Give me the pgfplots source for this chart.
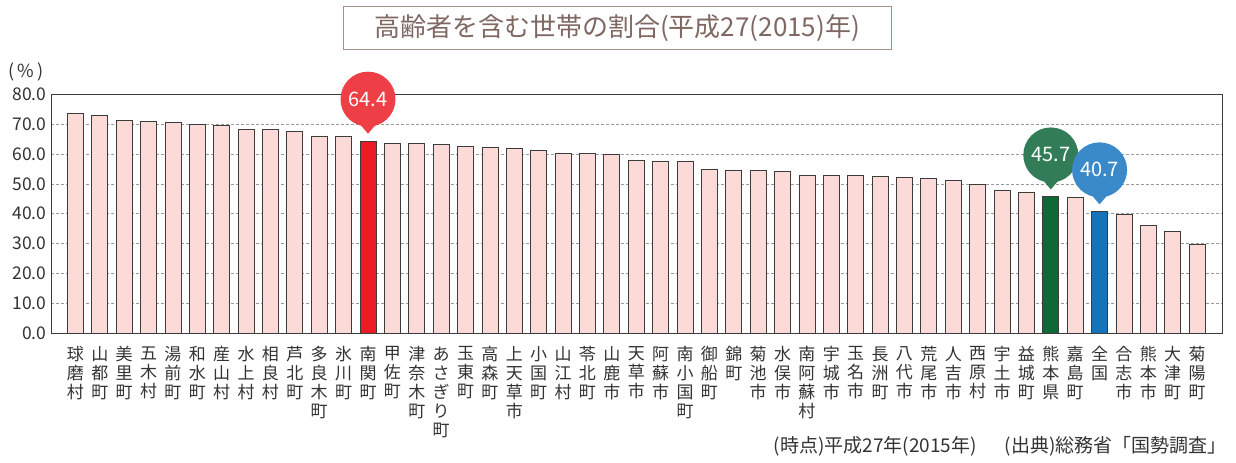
\documentclass[border=0pt]{standalone}
\usepackage{fontspec}
\setmainfont{Noto Sans CJK JP}
\usepackage{pgfplots}
\pgfplotsset{compat=1.18}
\usetikzlibrary{shapes.callouts}
\definecolor{barpink}{HTML}{FBDAD8}
\definecolor{baredge}{HTML}{3C3C3C}
\definecolor{barred}{HTML}{ED1C24}
\definecolor{bubred}{HTML}{EE3F47}
\definecolor{bargreen}{HTML}{0F6937}
\definecolor{bubgreen}{HTML}{327D57}
\definecolor{barblue}{HTML}{1573BB}
\definecolor{bubblue}{HTML}{3A89C9}
\definecolor{titlecol}{HTML}{7F6762}
\definecolor{titlebox}{HTML}{A48F89}
\definecolor{txt}{HTML}{333333}
\definecolor{gridcol}{HTML}{9A9A9A}
\begin{document}
\begin{tikzpicture}[x=1bp,y=1bp]
\useasboundingbox (0,0) rectangle (1236,463);
\begin{axis}[
  at={(51bp,130bp)}, anchor=south west,
  scale only axis, width=1171.7bp, height=238.5bp,
  xmin=-1, xmax=47.05, ymin=0, ymax=80,
  axis line style={baredge, line width=0.8bp},
  ytick={0,10,...,80},
  major tick length=0pt,
  ymajorgrids, grid style={gridcol, line width=0.8bp, dash pattern=on 3bp off 2bp},
  y tick label style={/pgf/number format/fixed, /pgf/number format/fixed zerofill, /pgf/number format/precision=1, /pgf/number format/assume math mode=true, font=\fontsize{17.5bp}{20bp}\selectfont, text=txt, xshift=-1bp},
  xtick={0,...,46},
  xticklabels={球\\磨\\村,山\\都\\町,美\\里\\町,五\\木\\村,湯\\前\\町,和\\水\\町,産\\山\\村,水\\上\\村,相\\良\\村,芦\\北\\町,多\\良\\木\\町,氷\\川\\町,南\\関\\町,甲\\佐\\町,津\\奈\\木\\町,あ\\さ\\ぎ\\り\\町,玉\\東\\町,高\\森\\町,上\\天\\草\\市,小\\国\\町,山\\江\\村,苓\\北\\町,山\\鹿\\市,天\\草\\市,阿\\蘇\\市,南\\小\\国\\町,御\\船\\町,錦\\町,菊\\池\\市,水\\俣\\市,南\\阿\\蘇\\村,宇\\城\\市,玉\\名\\市,長\\洲\\町,八\\代\\市,荒\\尾\\市,人\\吉\\市,西\\原\\村,宇\\土\\市,益\\城\\町,熊\\本\\県,嘉\\島\\町,全\\国,合\\志\\市,熊\\本\\市,大\\津\\町,菊\\陽\\町},
  x tick label style={font=\fontsize{17bp}{19bp}\selectfont, text=txt, align=center, anchor=north, yshift=-10bp},
  nodes near coords style={ellipse callout, text=white, minimum width=55bp, minimum height=55bp, inner sep=0pt, callout relative pointer={(0bp,-7bp)}, callout pointer arc=28, anchor=pointer, yshift=7bp, font=\fontsize{20bp}{20bp}\selectfont, /pgf/number format/fixed, /pgf/number format/fixed zerofill, /pgf/number format/precision=1, /pgf/number format/assume math mode=true},
]
\addplot[ybar, bar width=16bp, bar shift=0pt, fill=barpink, draw=baredge, line width=0.8bp] coordinates {
(0,73.7) (1,73.0) (2,71.3) (3,70.9) (4,70.6) (5,69.9) (6,69.7) (7,68.3) (8,68.3) (9,67.7)
(10,66.1) (11,65.9) (13,63.7) (14,63.6) (15,63.3) (16,62.5) (17,62.2) (18,62.0) (19,61.2)
(20,60.3) (21,60.2) (22,59.8) (23,57.8) (24,57.7) (25,57.5) (26,54.8) (27,54.7) (28,54.6)
(29,54.1) (30,53.0) (31,52.9) (32,52.8) (33,52.5) (34,52.1) (35,51.9) (36,51.1) (37,49.8)
(38,47.9) (39,47.2) (41,45.6) (43,39.7) (44,36.2) (45,34.1) (46,29.6)
};
\addplot[ybar, bar width=16bp, bar shift=0pt, fill=barred, draw=baredge, line width=0.8bp] coordinates {(12,64.4)};
\addplot[ybar, bar width=16bp, bar shift=0pt, fill=bargreen, draw=baredge, line width=0.8bp] coordinates {(40,45.7)};
\addplot[ybar, bar width=16bp, bar shift=0pt, fill=barblue, draw=baredge, line width=0.8bp] coordinates {(42,40.7)};
\addplot[draw=none, mark=none, nodes near coords, nodes near coords style={fill=bubred}] coordinates {(12,64.4)};
\addplot[draw=none, mark=none, nodes near coords, nodes near coords style={fill=bubgreen}] coordinates {(40,45.7)};
\addplot[draw=none, mark=none, nodes near coords, nodes near coords style={fill=bubblue}] coordinates {(42,40.7)};
\end{axis}
\node[anchor=center, text=txt, font=\fontsize{18bp}{20bp}\selectfont] at (26,391) {(\,\%\,)};
\node[draw=titlebox, line width=1bp, minimum width=548bp, minimum height=43bp, text=titlecol, font=\fontsize{26bp}{28bp}\selectfont] at (617,434.5) {高齢者を含む世帯の割合(平成27(2015)年)};
\node[anchor=base east, text=txt, font=\fontsize{19bp}{20bp}\selectfont] at (1230,10) {(時点)平成27年(2015年)\hspace{28bp}(出典)総務省「国勢調査」};
\end{tikzpicture}
\end{document}
